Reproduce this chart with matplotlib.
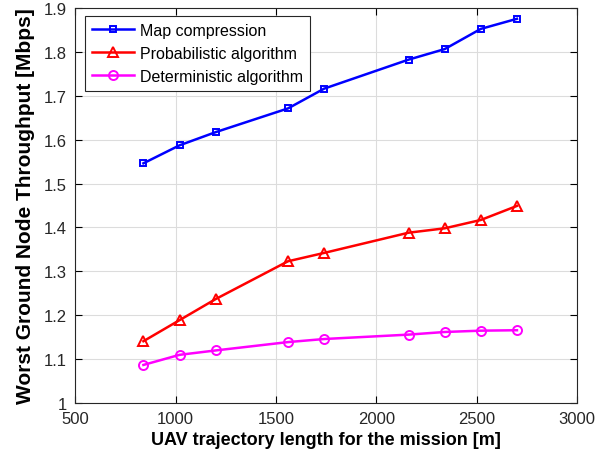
import numpy as np
import matplotlib.pyplot as plt

plt.rcParams['font.family'] = ['Liberation Sans', 'DejaVu Sans']

# Data
traj_len = np.array([840, 1020, 1200, 1560, 1740, 2160, 2340, 2520, 2700])
map_comp = np.array([1.546, 1.587, 1.617, 1.671, 1.716, 1.782, 1.806, 1.852, 1.875])
prob_alg = np.array([1.141, 1.189, 1.237, 1.323, 1.342, 1.388, 1.398, 1.417, 1.449])
det_alg = np.array([1.087, 1.110, 1.120, 1.139, 1.146, 1.156, 1.162, 1.165, 1.166])

fig = plt.figure(figsize=(6.16, 4.64), dpi=100)
ax = fig.add_axes([0.122, 0.129, 0.815, 0.852])

ax.plot(traj_len, map_comp, color='#0000ff', marker='s', markersize=5, mfc='none',
        mew=1.4, lw=1.8, label='Map compression')
ax.plot(traj_len, prob_alg, color='#ff0000', marker='^', markersize=7.5, mfc='none',
        mew=1.4, lw=1.8, label='Probabilistic algorithm')
ax.plot(traj_len, det_alg, color='#ff00ff', marker='o', markersize=6.5, mfc='none',
        mew=1.4, lw=1.8, label='Deterministic algorithm')

ax.set_xlim(500, 3000)
ax.set_ylim(1, 1.9)
ax.set_xticks(np.arange(500, 3001, 500))
ax.set_yticks(np.arange(1, 1.91, 0.1))
ax.set_yticklabels(['1', '1.1', '1.2', '1.3', '1.4', '1.5', '1.6', '1.7', '1.8', '1.9'])
ax.grid(True, color='#dcdcdc', lw=0.8)
ax.tick_params(direction='in', top=True, right=True, labelsize=12, length=5, pad=6,
               labelcolor='#262626')
for s in ax.spines.values():
    s.set_color('#262626')
    s.set_linewidth(0.8)

ax.set_xlabel('UAV trajectory length for the mission [m]', fontsize=13,
              fontweight='bold', labelpad=3)
ax.set_ylabel('Worst Ground Node Throughput [Mbps]', fontsize=15,
              fontweight='bold', labelpad=6)

leg = ax.legend(loc='upper left', bbox_to_anchor=(0.02, 0.98), fontsize=11.5,
                fancybox=False, edgecolor='#262626', framealpha=1, borderaxespad=0,
                handlelength=2.6, borderpad=0.45, labelspacing=0.5, handletextpad=0.4)
leg.get_frame().set_linewidth(0.8)

plt.savefig('out.png', dpi=100)
